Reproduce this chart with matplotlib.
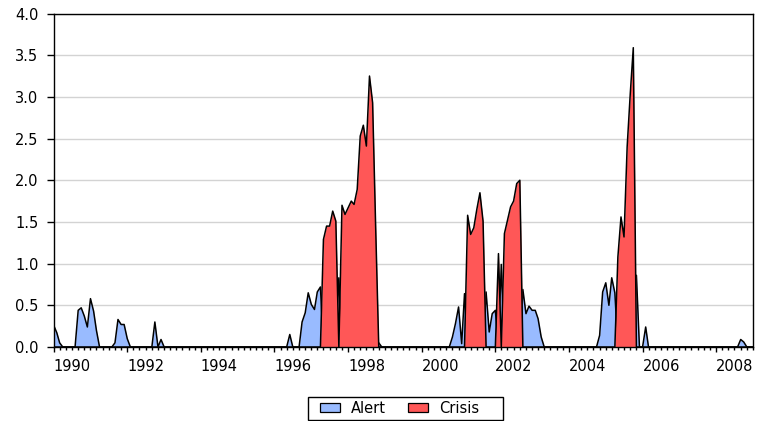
import matplotlib
matplotlib.use("Agg")
import matplotlib.pyplot as plt
import matplotlib.dates as mdates
from matplotlib.patches import Patch, Rectangle
from matplotlib.ticker import FormatStrFormatter
import pandas as pd

# ---------------- data (monthly index, 1990M1 - 2009M1) ----------------
first_month = "1990-01-01"
n_months = 229

# Alert regime episodes: start month and monthly values
alert_starts = ["1990-01", "1990-09", "1991-09", "1992-10", "1992-12", "1996-06",
                "1996-10", "1997-10", "1998-11", "2000-11", "2001-10", "2002-03",
                "2002-10", "2004-11", "2005-11", "2006-02", "2008-09"]
alert_values = [
    [0.26, 0.17, 0.05],
    [0.44, 0.47, 0.37, 0.24, 0.58, 0.43, 0.20],
    [0.05, 0.33, 0.27, 0.27, 0.10],
    [0.30],
    [0.09],
    [0.15],
    [0.30, 0.41, 0.65, 0.51, 0.45, 0.66, 0.72],
    [0.83],
    [0.05],
    [0.12, 0.28, 0.48, 0.04, 0.64],
    [0.66, 0.18, 0.40, 0.44],
    [0.99],
    [0.69, 0.40, 0.49, 0.44, 0.44, 0.34, 0.12],
    [0.14, 0.66, 0.77, 0.50, 0.83, 0.65],
    [0.86],
    [0.24],
    [0.09, 0.06],
]

# Crisis regime episodes
crisis_starts = ["1997-05", "1997-11", "2001-04", "2002-02", "2002-04", "2005-05"]
crisis_values = [
    [1.29, 1.45, 1.45, 1.63, 1.51],
    [1.70, 1.59, 1.67, 1.75, 1.71, 1.89, 2.53, 2.66, 2.41, 3.25, 2.93, 1.45],
    [1.58, 1.35, 1.43, 1.65, 1.85, 1.51],
    [1.12],
    [1.36, 1.52, 1.68, 1.75, 1.96, 2.00],
    [1.08, 1.56, 1.32, 2.40, 3.04, 3.59],
]

series_names = ["Alert", "Crisis"]
y_ticks = [0.0, 0.5, 1.0, 1.5, 2.0, 2.5, 3.0, 3.5, 4.0]

# ---------------- build monthly series ----------------
dates = pd.date_range(first_month, periods=n_months, freq="MS")


def build(starts, values):
    s = pd.Series(0.0, index=dates)
    for st, vals in zip(starts, values):
        i = dates.get_loc(pd.Timestamp(st + "-01"))
        s.iloc[i:i + len(vals)] = vals
    return s


alert = build(alert_starts, alert_values)
crisis = build(crisis_starts, crisis_values)

BLUE = "#99BBFF"
RED = "#FF5757"

# ---------------- figure ----------------
W, H = 763, 421
fig = plt.figure(figsize=(W / 100, H / 100), dpi=100)
left, right, top, bottom = 53.7, 753.0, 13.5, 347.0
ax = fig.add_axes([left / W, 1 - bottom / H, (right - left) / W, (bottom - top) / H])

ax.fill_between(dates, 0, alert.values, color=BLUE, lw=0, zorder=2)
ax.plot(dates, alert.values, color="black", lw=1.1, zorder=3)
ax.fill_between(dates, 0, crisis.values, color=RED, lw=0, zorder=4)
ax.plot(dates, crisis.values, color="black", lw=1.1, zorder=5)

ax.set_ylim(0, 4.0)
ax.set_xlim(pd.Timestamp("1990-01-01"), pd.Timestamp("2009-01-01"))

ax.set_yticks(y_ticks)
ax.yaxis.set_major_formatter(FormatStrFormatter("%.1f"))
ax.yaxis.grid(True, color="#D3D3D3", lw=1.0)
ax.set_axisbelow(True)

ax.xaxis.set_major_locator(mdates.YearLocator(2))
ax.xaxis.set_minor_locator(mdates.MonthLocator(bymonth=[1, 3, 5, 7, 9, 11]))
ax.xaxis.set_major_formatter(mdates.DateFormatter("%Y"))

for sp in ax.spines.values():
    sp.set_linewidth(1.0)
    sp.set_color("black")
    sp.set_zorder(6)

ax.tick_params(axis="y", direction="out", length=5, width=1.0, pad=6,
               labelsize=10.5, colors="black")
ax.tick_params(axis="x", which="major", direction="out", length=3.6, width=1.0,
               pad=5, labelsize=10.5, colors="black")
ax.tick_params(axis="x", which="minor", direction="out", length=2.0, width=1.0)
plt.setp(ax.get_xticklabels(), ha="left")

# ---------------- legend ----------------
handles = [Patch(facecolor=BLUE, edgecolor="black", lw=0.9, label=series_names[0]),
           Patch(facecolor=RED, edgecolor="black", lw=0.9, label=series_names[1])]
leg = fig.legend(handles=handles, loc="center", bbox_to_anchor=(399.5 / W, 1 - 408.5 / H),
                 ncol=2, frameon=False, fontsize=10.5,
                 handlelength=1.4, handleheight=0.6, handletextpad=0.75,
                 columnspacing=1.45, borderpad=0.2)
fig.add_artist(Rectangle((308 / W, 1 - 419.5 / H), 195 / W, 23 / H,
                         transform=fig.transFigure, fill=False,
                         edgecolor="black", lw=1.0))

fig.savefig("out.png", dpi=100)
